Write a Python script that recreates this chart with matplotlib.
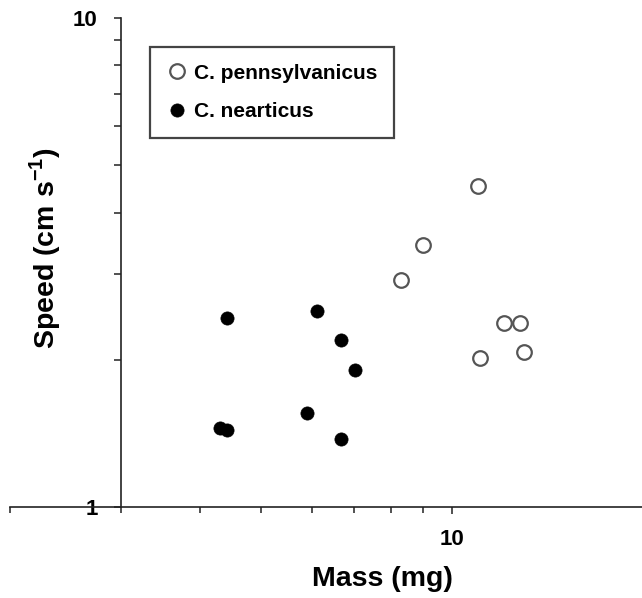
"""Speed vs. mass for two Chrysops species (log-log)"""
import matplotlib
matplotlib.use("Agg")
import matplotlib.pyplot as plt
from matplotlib.ticker import FixedLocator, FixedFormatter, NullFormatter

plt.rcParams['font.family'] = ['Liberation Sans', 'DejaVu Sans']
plt.rcParams['font.weight'] = 'bold'
plt.rcParams['mathtext.fontset'] = 'custom'
plt.rcParams['mathtext.rm'] = 'Liberation Sans:bold'
plt.rcParams['mathtext.bf'] = 'Liberation Sans:bold'

# C. pennsylvanicus (open circles)
PENN_MASS = [11.0, 9.0, 8.3, 12.1, 12.8, 11.1, 13.0]
PENN_SPEED = [4.53, 3.43, 2.91, 2.38, 2.38, 2.02, 2.07]

# C. nearticus (filled circles)
NEAR_MASS = [4.41, 6.13, 6.69, 7.02, 5.91, 4.30, 4.41, 6.69]
NEAR_SPEED = [2.44, 2.52, 2.20, 1.91, 1.56, 1.45, 1.44, 1.38]

X_MINOR = [2, 3, 4, 5, 6, 7, 8, 9]
Y_MINOR = [2, 3, 4, 5, 6, 7, 8, 9]

fig = plt.figure(figsize=(6.42, 5.98), dpi=100)
ax = fig.add_axes([10 / 642, 91 / 598, 632 / 642, 489 / 598])

ax.plot(PENN_MASS, PENN_SPEED, 'o', ms=10.5, mfc='white', mec='#555555',
        mew=1.6, label='C. pennsylvanicus', clip_on=False)
ax.plot(NEAR_MASS, NEAR_SPEED, 'o', ms=9.5, mfc='black', mec='black',
        mew=0.5, label='C. nearticus', clip_on=False)

ax.set_xscale('log')
ax.set_yscale('log')
ax.set_xlim(2, 20)
ax.set_ylim(1, 10)

ax.spines['top'].set_visible(False)
ax.spines['right'].set_visible(False)
ax.spines['left'].set_position(('data', 3))
for side in ('left', 'bottom'):
    ax.spines[side].set_linewidth(1.2)
    ax.spines[side].set_color('#222222')

ax.xaxis.set_major_locator(FixedLocator([10]))
ax.xaxis.set_major_formatter(FixedFormatter(['10']))
ax.xaxis.set_minor_locator(FixedLocator(X_MINOR))
ax.xaxis.set_minor_formatter(NullFormatter())
ax.yaxis.set_major_locator(FixedLocator([1, 10]))
ax.yaxis.set_major_formatter(FixedFormatter(['1', '10']))
ax.yaxis.set_minor_locator(FixedLocator(Y_MINOR))
ax.yaxis.set_minor_formatter(NullFormatter())

ax.tick_params(which='both', direction='out', color='#222222', width=1.1)
ax.tick_params(axis='x', which='major', length=5, pad=11, labelsize=16)
ax.tick_params(axis='x', which='minor', length=4)
ax.tick_params(axis='y', which='major', length=5, pad=12, labelsize=16)
ax.tick_params(axis='y', which='minor', length=5)

ax.set_xlabel('Mass (mg)', fontsize=20.5, fontweight='bold')
ax.xaxis.set_label_coords(0.589, -0.12)
ax.set_ylabel(r'Speed (cm s$^{\mathbf{-1}}$)', fontsize=20.5,
              fontweight='bold', va='center')
ax.yaxis.set_label_coords(0.055, 0.53)

leg = ax.legend(loc='upper left', bbox_to_anchor=(0.2215, 0.9407),
                fontsize=15, frameon=True, fancybox=False, framealpha=1,
                borderpad=0.8, labelspacing=0.95, handlelength=1.0,
                handletextpad=0.3, borderaxespad=0)
leg.get_frame().set_edgecolor('#444444')
leg.get_frame().set_linewidth(1.6)
for t in leg.get_texts():
    t.set_fontweight('bold')

fig.savefig('out.png', dpi=100)
